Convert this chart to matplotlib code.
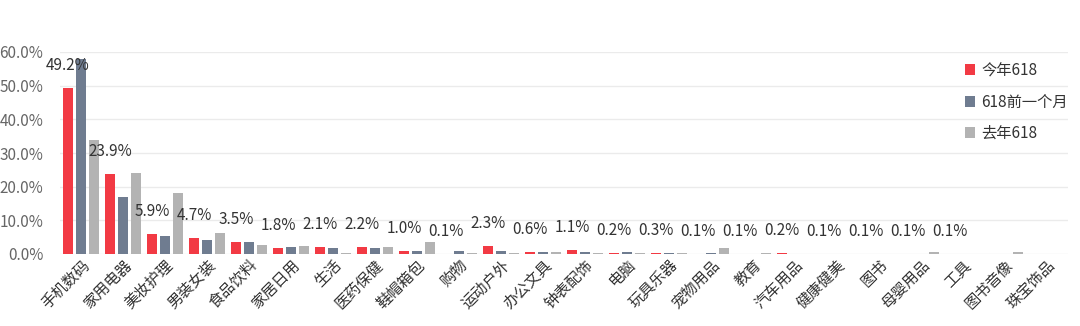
import numpy as np
import matplotlib
matplotlib.use("Agg")
import matplotlib.pyplot as plt
from matplotlib.ticker import FuncFormatter

plt.rcParams['font.family'] = ['Noto Sans CJK SC', 'DejaVu Sans']

categories = ['手机数码', '家用电器', '美妆护理', '男装女装', '食品饮料', '家居日用',
              '生活', '医药保健', '鞋帽箱包', '购物', '运动户外', '办公文具',
              '钟表配饰', '电脑', '玩具乐器', '宠物用品', '教育', '汽车用品',
              '健康健美', '图书', '母婴用品', '工具', '图书音像', '珠宝饰品']
this_year = [49.2, 23.9, 5.9, 4.7, 3.5, 1.8, 2.1, 2.2, 1.0, 0.1, 2.3, 0.6,
             1.1, 0.2, 0.3, 0.1, 0.1, 0.2, 0.1, 0.1, 0.1, 0.1, 0.0, 0.0]
month_before = [57.9, 16.9, 5.3, 4.2, 3.5, 2.1, 1.9, 1.8, 1.0, 0.9, 0.9, 0.6,
                0.7, 0.5, 0.3, 0.3, 0.1, 0.1, 0.1, 0.1, 0.1, 0.1, 0.1, 0.1]
last_year = [33.8, 24.0, 18.0, 6.3, 2.7, 2.4, 0.4, 2.2, 3.6, 0.3, 0.2, 0.7,
             0.3, 0.2, 0.3, 1.8, 0.3, 0.1, 0.1, 0.1, 0.7, 0.1, 0.5, 0.1]
labels = ['49.2%', '23.9%', '5.9%', '4.7%', '3.5%', '1.8%', '2.1%', '2.2%',
          '1.0%', '0.1%', '2.3%', '0.6%', '1.1%', '0.2%', '0.3%', '0.1%',
          '0.1%', '0.2%', '0.1%', '0.1%', '0.1%', '0.1%', '', '']
series_names = ['今年618', '618前一个月', '去年618']

RED = '#F23A44'
BLUE = '#6F7C90'
GRAY = '#B3B3B3'

fig = plt.figure(figsize=(10.8, 3.26), dpi=100)
ax = fig.add_axes([60 / 1080, 72 / 326, 1008 / 1080, 202 / 326])

x = np.arange(len(categories))
w = 0.26
off = 0.31
ax.bar(x - off, this_year, w, color=RED, label=series_names[0], zorder=3)
ax.bar(x, month_before, w, color=BLUE, label=series_names[1], zorder=3)
ax.bar(x + off, last_year, w, color=GRAY, label=series_names[2], zorder=3)

# value labels sit above the red bars
for xi, v, t in zip(x, this_year, labels):
    if t:
        ax.annotate(t, (xi - off, v), xytext=(0, 10), textcoords='offset points',
                    ha='center', va='bottom', fontsize=11, color='#333333', zorder=4)

ax.set_xlim(-0.5, len(categories) - 0.5)
ax.set_ylim(0, 60)
ax.set_yticks(np.arange(0, 61, 10))
ax.yaxis.set_major_formatter(FuncFormatter(lambda v, p: f'{v:.1f}%'))
ax.tick_params(axis='y', length=0, labelsize=11, labelcolor='#666666', pad=12)
ax.tick_params(axis='x', length=0, labelsize=11, labelcolor='#333333', pad=2)
ax.set_xticks(x)
ax.set_xticklabels(categories, rotation=45, ha='right', rotation_mode='anchor')
ax.grid(axis='y', color='#EBEBEB', linewidth=1, zorder=0)
for s in ax.spines.values():
    s.set_visible(False)

leg = ax.legend(loc='upper right', bbox_to_anchor=(1.006, 0.98), frameon=False,
                fontsize=11, handlelength=0.7, handleheight=0.7,
                handletextpad=0.4, labelspacing=0.95, borderaxespad=0)
for t in leg.get_texts():
    t.set_color('#333333')

fig.savefig('out.png', dpi=100)
